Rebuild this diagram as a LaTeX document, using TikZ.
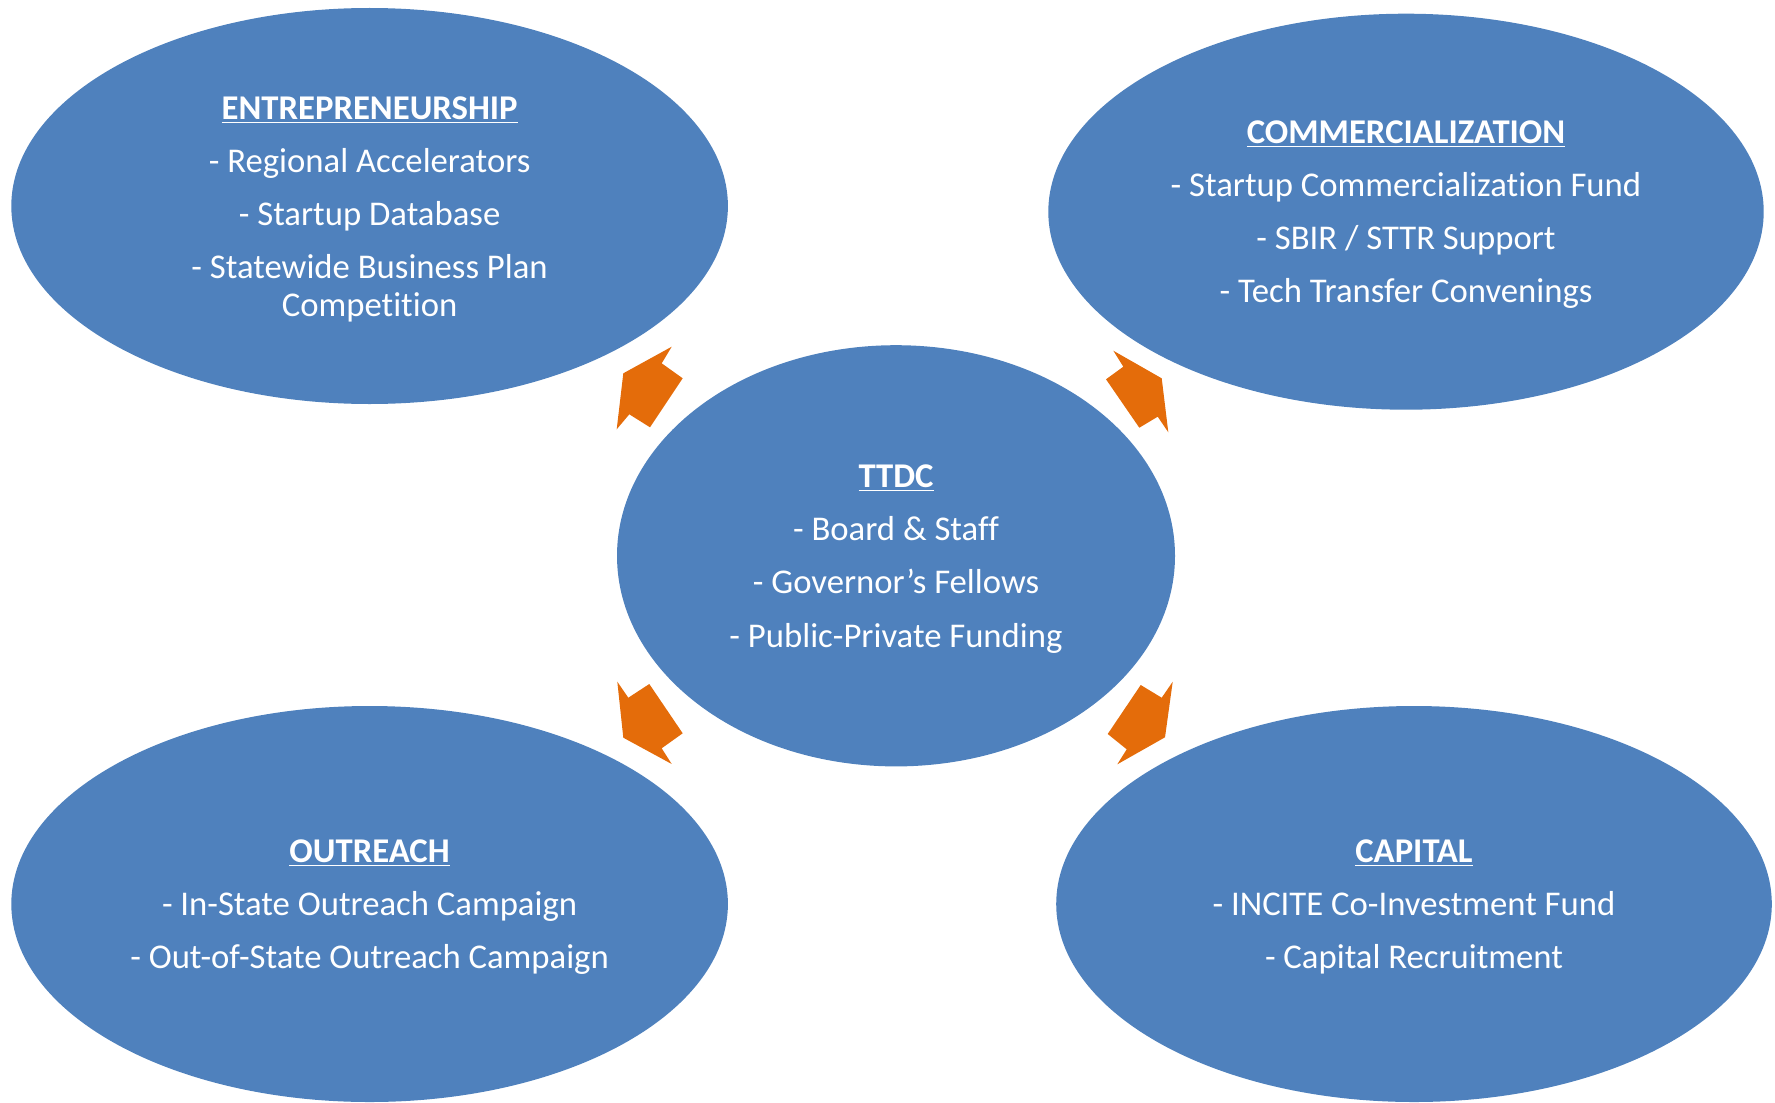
\documentclass[tikz,border=0pt]{standalone}
\usepackage{fontspec}
\setmainfont{Carlito}[Ligatures=NoCommon]
\usepackage{xcolor}
\usetikzlibrary{shapes.geometric}
\definecolor{bubbleblue}{HTML}{4F81BD}
\definecolor{arroworange}{HTML}{E46C0A}
\newcommand{\bubbletitle}[1]{\underline{\textbf{#1}}}
\begin{document}
\begin{tikzpicture}[x=0.5pt,y=-0.5pt,
    bubble/.style={ellipse,fill=bubbleblue,inner sep=0pt},
    bubbletext/.style={text=white,inner sep=0pt,align=center,
        font=\fontsize{17.35}{18.7}\selectfont},
    blockarrow/.style={fill=arroworange}]
            \useasboundingbox (0,0) rectangle (1775,1102);
            
            % Bubbles
            \node[bubble,minimum width=358.3pt,minimum height=198pt] (entre) at (369.6,206) {};
            \node[bubbletext] (entre-text) at ([yshift=-1.5pt]entre.center)
                {\bubbletitle{ENTREPRENEURSHIP}\\[7.9pt] - Regional Accelerators\\[7.9pt] - Startup Database\\[7.9pt] - Statewide Business Plan\\ Competition};
            
            \node[bubble,minimum width=357.7pt,minimum height=198pt] (comm) at (1406,211.7) {};
            \node[bubbletext] (comm-text) at ([yshift=-1.5pt]comm.center)
                {\bubbletitle{COMMERCIALIZATION}\\[7.9pt] - Startup Commercialization Fund\\[7.9pt] - SBIR / STTR Support\\[7.9pt] - Tech Transfer Convenings};
            
            \node[bubble,minimum width=279pt,minimum height=210.6pt] (ttdc) at (896,555.8) {};
            \node[bubbletext] (ttdc-text) at ([yshift=-1.5pt]ttdc.center)
                {\bubbletitle{TTDC}\\[7.9pt] - Board \& Staff\\[7.9pt] - Governor’s Fellows\\[7.9pt] - Public-Private Funding};
            
            \node[bubble,minimum width=358.3pt,minimum height=198pt] (outreach) at (369.6,904) {};
            \node[bubbletext] (outreach-text) at ([yshift=-1.5pt]outreach.center)
                {\bubbletitle{OUTREACH}\\[7.9pt] - In-State Outreach Campaign\\[7.9pt] - Out-of-State Outreach Campaign};
            
            \node[bubble,minimum width=357.8pt,minimum height=198pt] (capital) at (1414,904) {};
            \node[bubbletext] (capital-text) at ([yshift=-1.5pt]capital.center)
                {\bubbletitle{CAPITAL}\\[7.9pt] - INCITE Co-Investment Fund\\[7.9pt] - Capital Recruitment};
            
            % Arrows
            \fill[blockarrow] (623.3,373.3) -- (671.7,346.7) -- (661.7,363.3) -- (682.7,378.3)
                -- (650,427.3) -- (629.3,414.3) -- (616.7,429.3) -- cycle;
            
            \fill[blockarrow] (1113.3,350.7) -- (1123.3,366.7) -- (1106,379.3) -- (1139.3,427.7)
                -- (1157.7,416.7) -- (1168.3,432.3) -- (1161.7,378.3) -- cycle;
            
            \fill[blockarrow] (617.3,681.7) -- (628.3,697.7) -- (649.3,684) -- (682.7,733.3)
                -- (661.7,748.3) -- (671.7,764) -- (623.3,737.7) -- cycle;
            
            \fill[blockarrow] (1172.7,681.7) -- (1161.7,697.7) -- (1140.7,685) -- (1107.7,734)
                -- (1126.7,749.3) -- (1117.3,764.3) -- (1165,737.3) -- cycle;
        \end{tikzpicture}
\end{document}
